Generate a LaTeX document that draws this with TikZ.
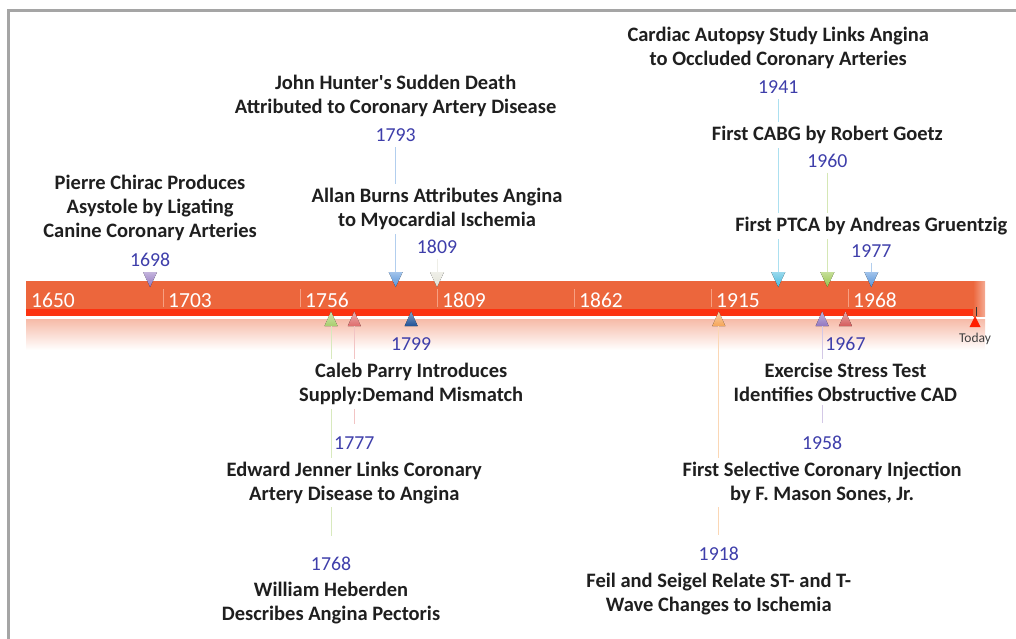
\documentclass[tikz,border=0pt]{standalone}
\usepackage{fontspec}
\setmainfont{Carlito}
\usetikzlibrary{positioning}
\definecolor{barorange}{RGB}{236,102,60}
\definecolor{barred}{RGB}{252,50,16}
\definecolor{tickline}{RGB}{247,160,130}
\definecolor{yearblue}{RGB}{62,62,170}
\definecolor{framegray}{RGB}{165,165,165}
\definecolor{mkpurple}{RGB}{146,118,192}
\definecolor{mkblue}{RGB}{84,146,218}
\definecolor{mkwhite}{RGB}{226,226,214}
\definecolor{mkcyan}{RGB}{70,186,222}
\definecolor{mkgreen}{RGB}{150,196,70}
\definecolor{mklime}{RGB}{168,206,110}
\definecolor{mkrose}{RGB}{222,108,108}
\definecolor{mknavy}{RGB}{32,82,150}
\definecolor{mkorange}{RGB}{246,166,90}
\definecolor{mkred}{RGB}{212,92,92}
\definecolor{mktoday}{RGB}{255,30,0}
\newcommand{\tlx}[1]{26+(#1-1650)*2.585}
\tikzstyle{event} = [align=center, anchor=base, fill=white, inner xsep=4pt, inner ysep=4pt, text=black!88, font=\bfseries\fontsize{20.5}{24}\selectfont]
\tikzstyle{year} = [anchor=base, inner sep=0pt, text=yearblue, font=\fontsize{19.8}{24}\selectfont]
\tikzstyle{axislabel} = [anchor=base west, inner sep=0pt, text=white, font=\fontsize{21.5}{24}\selectfont]
\tikzstyle{link} = [line width=1pt]
\tikzset{tri/.style={top color=#1!55!white, bottom color=#1}}

\begin{document}
\begin{tikzpicture}[x=1pt, y=-1pt]
\useasboundingbox (0,0) rectangle (1016,639);
\draw[framegray, line width=3pt] (8.5,639) -- (8.5,10.5) -- (1016,10.5);

% the bar
\shade[top color=barorange!45!white, bottom color=white] (26,319) rectangle (985,350);
\fill[barorange] (26,281) rectangle (985,309);
\fill[barred] (26,309) rectangle (976,316);
\shade[left color=barorange, right color=barorange!55!white] (973,281) rectangle (985,316);
\foreach \yr in {1703,1756,1809,1862,1915,1968}
  \draw[tickline, line width=1pt] ({\tlx{\yr}},289) -- ({\tlx{\yr}},307);
\foreach \yr in {1650,1703,1756,1809,1862,1915,1968}
  \node[axislabel] (t\yr) at ({\tlx{\yr}+5},307) {\yr};

% markers
\foreach \yr/\col in {1698/mkpurple,1793/mkblue,1809/mkwhite,1941/mkcyan,1960/mkgreen,1977/mkblue}
  {\coordinate (up\yr) at ({\tlx{\yr}},272);
   \fill[tri=\col] (up\yr) -- ++(7,0) -- ++(-7,15) -- ++(-7,-15) -- cycle;}
\foreach \yr/\col in {1768/mklime,1777/mkrose,1799/mknavy,1918/mkorange,1958/mkpurple,1967/mkred}
  {\coordinate (dn\yr) at ({\tlx{\yr}},326);
   \fill[tri=\col] (dn\yr) -- ++(6.5,0) -- ++(-6.5,-14.5) -- ++(-6.5,14.5) -- cycle;}
\coordinate (today) at (975,327);
\draw[black!80, line width=0.8pt] (976,307) -- (976,316);
\fill[mktoday] (today) -- ++(5.5,0) -- ++(-5.5,-11) -- ++(-5.5,11) -- cycle;
\node[anchor=base, inner sep=0pt, text=black!75, font=\fontsize{13.5}{15}\selectfont] (todaylbl) at (975,342) {Today};

% years
\node[year] (y1698) at ({\tlx{1698}},266) {1698};
\node[year] (y1793) at ({\tlx{1793}},141.7) {1793};
\node[year] (y1809) at ({\tlx{1809}},253.3) {1809};
\node[year] (y1941) at ({\tlx{1941}},94) {1941};
\node[year] (y1960) at ({\tlx{1960}},167.3) {1960};
\node[year] (y1977) at ({\tlx{1977}},257.3) {1977};
\node[year] (y1799) at ({\tlx{1799}},350.7) {1799};
\node[year] (y1777) at ({\tlx{1777}},449.3) {1777};
\node[year] (y1768) at ({\tlx{1768}},570) {1768};
\node[year] (y1967) at ({\tlx{1967}},350.7) {1967};
\node[year] (y1958) at ({\tlx{1958}},449) {1958};
\node[year] (y1918) at ({\tlx{1918}},560.7) {1918};

% connectors
\draw[link, mkblue!45!white, shorten <=5pt] (y1793) -- (up1793);
\draw[link, mkwhite!60!white, shorten <=5pt] (y1809) -- (up1809);
\draw[link, mkcyan!45!white, shorten <=5pt] (y1941) -- (up1941);
\draw[link, mkgreen!40!white, shorten <=5pt] (y1960) -- (up1960);
\draw[link, mkblue!45!white, shorten <=5pt] (y1977) -- (up1977);
\draw[link, mklime!45!white, shorten >=20pt] (dn1768) -- (y1768);
\draw[link, mkrose!40!white, shorten >=12pt] (dn1777) -- (y1777);
\draw[link, mkorange!45!white, shorten >=12pt] (dn1918) -- (y1918);
\draw[link, mkpurple!40!white, shorten >=12pt] (dn1958) -- (y1958);

% events (placed at the baseline of their last line)
\node[event] (chirac) at ({\tlx{1698}},237.3) {Pierre Chirac Produces\\Asystole by Ligating\\Canine Coronary Arteries};
\node[event] (hunter) at ({\tlx{1793}},114) {John Hunter\textquotesingle s Sudden Death\\Attributed to Coronary Artery Disease};
\node[event] (burns) at ({\tlx{1809}},226.7) {Allan Burns Attributes Angina\\to Myocardial Ischemia};
\node[event] (autopsy) at ({\tlx{1941}},66) {Cardiac Autopsy Study Links Angina\\to Occluded Coronary Arteries};
\node[event] (cabg) at ({\tlx{1960}},140.7) {First CABG by Robert Goetz};
\node[event] (ptca) at ({\tlx{1977}},231.7) {First PTCA by Andreas Gruentzig};
\node[event] (parry) at ({\tlx{1799}},401.7) {Caleb Parry Introduces\\Supply:Demand Mismatch};
\node[event] (jenner) at ({\tlx{1777}},500) {Edward Jenner Links Coronary\\Artery Disease to Angina};
\node[event] (heberden) at ({\tlx{1768}},620) {William Heberden\\Describes Angina Pectoris};
\node[event] (stress) at ({\tlx{1967}},401) {Exercise Stress Test\\Identifies Obstructive CAD};
\node[event] (sones) at ({\tlx{1958}},500) {First Selective Coronary Injection\\by F. Mason Sones, Jr.};
\node[event] (feil) at ({\tlx{1918}},611.7) {Feil and Seigel Relate ST- and T-\\Wave Changes to Ischemia};
\end{tikzpicture}
\end{document}
